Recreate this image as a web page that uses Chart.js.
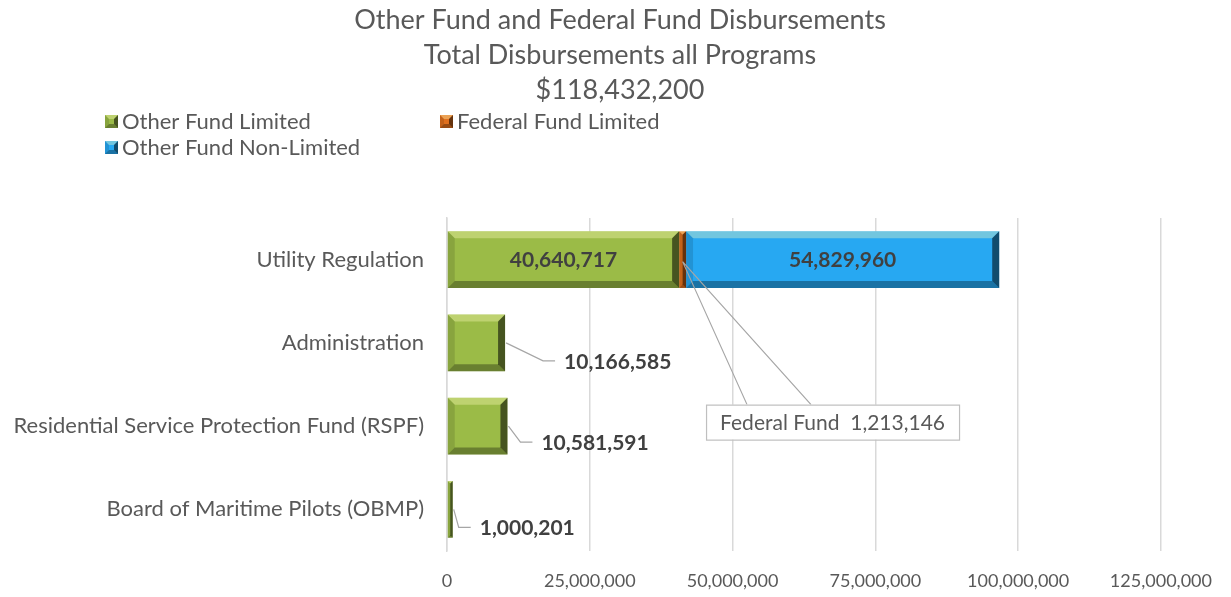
<!DOCTYPE html>
<html>
<head>
<meta charset="utf-8">
<script src="https://cdn.jsdelivr.net/npm/chart.js@4.4.0/dist/chart.umd.min.js"></script>
<style>
  html, body { margin: 0; padding: 0; background: #fff; }
  #wrap { width: 1231px; height: 597px; position: relative; }
</style>
</head>
<body>
<div id="wrap"><canvas id="chart"></canvas></div>
<script>
const titleLines = ['Other Fund and Federal Fund Disbursements', 'Total Disbursements all Programs', '$118,432,200'];
const programs = ['Utility Regulation', 'Administration', 'Residential Service Protection Fund (RSPF)', 'Board of Maritime Pilots (OBMP)'];
const otherFundLimited = [40640717, 10166585, 10581591, 1000201];
const federalFundLimited = [1213146, 0, 0, 0];
const otherFundNonLimited = [54829960, 0, 0, 0];
const xTicks = [0, 25000000, 50000000, 75000000, 100000000, 125000000];

const FONT = 'Lato, "Noto Sans", sans-serif';
const GREY = '#595959';
const fmt = v => v.toLocaleString('en-US');

// bevel look on each bar
function bevel(ctx, x0, y0, x1, y1, d) {
    const tri = (pts, color) => {
        ctx.beginPath();
        ctx.moveTo(pts[0][0], pts[0][1]);
        for (let i = 1; i < pts.length; i++) ctx.lineTo(pts[i][0], pts[i][1]);
        ctx.closePath();
        ctx.fillStyle = color;
        ctx.fill();
    };
    tri([[x0, y0], [x1, y0], [x1 - d, y0 + d], [x0 + d, y0 + d]], 'rgba(255,255,190,0.35)');
    tri([[x0, y1], [x1, y1], [x1 - d, y1 - d], [x0 + d, y1 - d]], 'rgba(0,0,0,0.32)');
    tri([[x0, y0], [x0 + d, y0 + d], [x0 + d, y1 - d], [x0, y1]], 'rgba(0,0,0,0.12)');
    tri([[x1, y0], [x1 - d, y0 + d], [x1 - d, y1 - d], [x1, y1]], 'rgba(0,0,0,0.55)');
}

const bevelPlugin = {
    id: 'bevel',
    afterDatasetsDraw(chart) {
        const ctx = chart.ctx;
        ctx.save();
        chart.data.datasets.forEach((ds, di) => {
            chart.getDatasetMeta(di).data.forEach((bar, i) => {
                if (!ds.data[i]) return;
                const x0 = Math.min(bar.base, bar.x), x1 = Math.max(bar.base, bar.x);
                const y0 = bar.y - bar.height / 2, y1 = bar.y + bar.height / 2;
                const d = Math.min(7, (x1 - x0) / 2, (y1 - y0) / 2);
                bevel(ctx, x0, y0, x1, y1, d);
            });
        });
        ctx.restore();
    }
};

// data labels: inside for the big segments, callouts for the others
const labelPlugin = {
    id: 'labels',
    afterDatasetsDraw(chart) {
        const ctx = chart.ctx;
        const m0 = chart.getDatasetMeta(0).data;
        const m1 = chart.getDatasetMeta(1).data;
        const m2 = chart.getDatasetMeta(2).data;
        ctx.save();
        ctx.font = 'bold 21px ' + FONT;
        ctx.fillStyle = '#404040';
        ctx.textBaseline = 'middle';
        ctx.textAlign = 'center';
        ctx.fillText(fmt(otherFundLimited[0]), (m0[0].x + m0[0].base) / 2, m0[0].y + 1);
        ctx.fillText(fmt(otherFundNonLimited[0]), (m2[0].x + m2[0].base) / 2, m2[0].y + 1);

        const callouts = [[1, 38, 18, 50, 59], [2, 13, 16, 25, 34], [3, 6, 18, 18, 27]];
        ctx.strokeStyle = '#A6A6A6';
        ctx.lineWidth = 1.2;
        ctx.textAlign = 'left';
        callouts.forEach(([i, dx1, dy, dx2, tx]) => {
            const b = m0[i];
            ctx.beginPath();
            ctx.moveTo(b.x + 1, b.y);
            ctx.lineTo(b.x + dx1, b.y + dy);
            ctx.lineTo(b.x + dx2, b.y + dy);
            ctx.stroke();
            ctx.fillText(fmt(otherFundLimited[i]), b.x + tx, b.y + dy + 1);
        });

        // federal fund callout box
        const f = m1[0];
        const ax = (f.x + f.base) / 2, ay = f.y + 2;
        const bx = f.x + 20, by = f.y + 145, bw = 253, bh = 35;
        ctx.beginPath();
        ctx.moveTo(ax, ay); ctx.lineTo(bx + 41, by);
        ctx.moveTo(ax, ay); ctx.lineTo(bx + 105, by);
        ctx.stroke();
        ctx.fillStyle = '#fff';
        ctx.fillRect(bx, by, bw, bh);
        ctx.strokeStyle = '#BFBFBF';
        ctx.strokeRect(bx + 0.5, by + 0.5, bw, bh);
        ctx.font = '21px ' + FONT;
        ctx.fillStyle = GREY;
        ctx.textAlign = 'center';
        ctx.fillText('Federal Fund  ' + fmt(federalFundLimited[0]), bx + bw / 2, by + bh / 2 + 1);
        ctx.restore();
    }
};

// legend laid out in two columns like the original
const legendPlugin = {
    id: 'colLegend',
    afterLayout(chart) {
        // centre the title on the whole canvas, not on the padded box
        const t = chart.titleBlock;
        if (t) { t.left = 9; t.right = chart.width; t.width = t.right - t.left; }
    },
    afterDraw(chart) {
        const ctx = chart.ctx;
        const spots = [[105, 121], [440, 121], [105, 147]];
        ctx.save();
        ctx.font = '22px ' + FONT;
        ctx.textBaseline = 'middle';
        ctx.textAlign = 'left';
        chart.data.datasets.forEach((ds, di) => {
            const [x, y] = spots[di];
            ctx.fillStyle = ds.backgroundColor;
            ctx.fillRect(x, y - 6, 13, 13);
            bevel(ctx, x, y - 6, x + 13, y + 7, 4);
            ctx.fillStyle = GREY;
            ctx.fillText(ds.label, x + 17, y + 1);
        });
        ctx.restore();
    }
};

new Chart(document.getElementById('chart'), {
    type: 'bar',
    data: {
        labels: programs,
        datasets: [
            { label: 'Other Fund Limited', data: otherFundLimited, backgroundColor: '#9BBB47' },
            { label: 'Federal Fund Limited', data: federalFundLimited, backgroundColor: '#E0701E' },
            { label: 'Other Fund Non-Limited', data: otherFundNonLimited, backgroundColor: '#27A8F2' }
        ]
    },
    options: {
        indexAxis: 'y',
        responsive: true,
        maintainAspectRatio: false,
        animation: false,
        datasets: { bar: { categoryPercentage: 1, barPercentage: 0.68, borderWidth: 0 } },
        layout: { padding: { left: 0, right: 68, top: 0, bottom: 0 } },
        plugins: {
            legend: { display: false },
            tooltip: { enabled: false },
            title: {
                display: true,
                text: titleLines,
                color: GREY,
                font: { family: FONT, size: 27, weight: 'normal', lineHeight: 35 / 27 },
                padding: { top: 3, bottom: 110 }
            }
        },
        scales: {
            x: {
                stacked: true,
                min: 0,
                max: 125000000,
                afterBuildTicks: s => { s.ticks = xTicks.map(v => ({ value: v })); },
                afterFit: s => { s.height = 46; },
                ticks: { color: GREY, padding: 19, maxRotation: 0, font: { family: FONT, size: 18 }, callback: v => fmt(v) },
                grid: { color: '#D9D9D9', lineWidth: 1.5, drawTicks: false },
                border: { display: false }
            },
            y: {
                stacked: true,
                afterFit: s => { s.width = 447; },
                ticks: { color: GREY, padding: 23, font: { family: FONT, size: 22 } },
                grid: { display: false, drawTicks: false },
                border: { display: true, color: '#D9D9D9', width: 1.5 }
            }
        }
    },
    plugins: [bevelPlugin, labelPlugin, legendPlugin]
});
</script>
</body>
</html>
